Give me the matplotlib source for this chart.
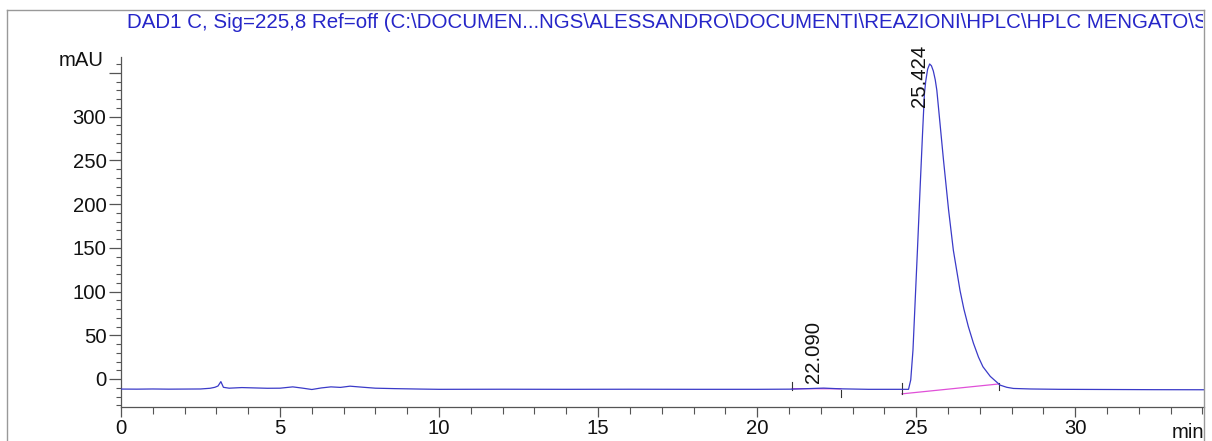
import matplotlib.pyplot as plt
from matplotlib.ticker import MultipleLocator
from matplotlib.transforms import Bbox, TransformedBbox, blended_transform_factory

plt.rcParams['font.family'] = ['Liberation Sans', 'DejaVu Sans']

# chromatogram trace (time in min, signal in mAU)
time = [0.0, 0.5, 1.0, 1.5, 2.0, 2.5, 2.8, 2.95, 3.05, 3.14, 3.22, 3.4, 3.8, 4.2,
        4.6, 5.0, 5.4, 5.7, 6.0, 6.3, 6.6, 6.9, 7.2, 7.6, 8.0, 8.6, 9.4, 10.0,
        12.0, 14.0, 16.0, 18.0, 20.0, 21.1, 21.6, 22.09, 22.6, 23.5, 24.5,
        24.76, 24.83, 24.90, 24.97, 25.04, 25.13, 25.20, 25.26, 25.30, 25.36,
        25.424, 25.48, 25.54, 25.60, 25.65, 25.75, 25.86, 26.02, 26.17, 26.38,
        26.5, 26.64, 26.8, 26.96, 27.1, 27.33, 27.5, 27.64, 27.85, 28.06, 28.6,
        29.5, 31.0, 32.5, 34.12]
signal = [-11.5, -11.6, -11.4, -11.6, -11.5, -11.4, -10.6, -9.5, -8.0, -3.0, -9.5,
          -10.5, -9.8, -10.2, -10.6, -10.5, -9.0, -10.4, -12.0, -10.2, -9.0, -9.6,
          -8.2, -9.4, -10.5, -11.0, -11.5, -11.8, -11.7, -11.8, -11.7, -11.8,
          -11.8, -11.6, -11.0, -10.4, -11.2, -11.8, -11.8, -11.8, -1.0, 33.0,
          90.0, 147.0, 223.0, 280.0, 326.0, 340.0, 354.0, 360.0, 358.0, 352.0,
          342.0, 330.0, 292.0, 250.0, 193.0, 147.0, 101.0, 80.0, 60.0, 41.0,
          25.0, 14.0, 3.0, -2.5, -7.0, -9.5, -10.8, -11.4, -11.8, -12.0, -12.2,
          -12.3]

# integration baselines and peak labels
baselines = [((21.1, 22.63), (-11.0, -11.2)), ((24.55, 27.59), (-17.0, -5.7))]
event_marks = [(21.1, -3.0, -12.6), (22.63, -12.6, -20.0),
               (24.55, -4.2, -17.5), (27.59, -4.0, -12.0)]
peak_rt = ['22.090', '25.424']
label_pos = [(21.76, -4.6), (25.11, 311.0)]

y_ticks = [0, 50, 100, 150, 200, 250, 300, 350]
y_labels = ['0', '50', '100', '150', '200', '250', '300', '']

title = ('DAD1 C, Sig=225,8 Ref=off (C:\\DOCUMEN...NGS\\ALESSANDRO\\DOCUMENTI'
         '\\REAZIONI\\HPLC\\HPLC MENGATO\\SAMPLE')

fs = 14.6

fig = plt.figure(figsize=(12.12, 4.41), dpi=100)
ax = fig.add_axes([121 / 1212, 34 / 441, 1083 / 1212, 350 / 441])

ax.plot(time, signal, color='#3a3ac8', lw=0.9, zorder=3)
for (xs, ys) in baselines:
    ax.plot(xs, ys, color='#e050d8', lw=0.9, zorder=2)
for x, y0, y1 in event_marks:
    ax.plot([x, x], [y0, y1], color='#333333', lw=0.8, zorder=2)
for txt, (x, y) in zip(peak_rt, label_pos):
    ax.text(x, y, txt, rotation=90, ha='center', va='bottom', fontsize=fs,
            color='#111111')

ax.set_xlim(0, 34.05)
ax.set_ylim(-32, 368)
for side in ['top', 'right']:
    ax.spines[side].set_visible(False)
for side in ['left', 'bottom']:
    ax.spines[side].set_color('#555555')
    ax.spines[side].set_linewidth(0.9)

ax.xaxis.set_major_locator(MultipleLocator(5))
ax.xaxis.set_minor_locator(MultipleLocator(1))
ax.set_yticks(y_ticks)
ax.set_yticklabels(y_labels)
ax.yaxis.set_minor_locator(MultipleLocator(10))
ax.tick_params(axis='both', which='major', labelsize=fs, color='#555555',
               width=0.9, labelcolor='#111111')
ax.tick_params(axis='both', which='minor', color='#555555', width=0.8)
ax.tick_params(axis='y', which='major', length=8.5, pad=2)
ax.tick_params(axis='y', which='minor', length=3.5)
ax.tick_params(axis='x', which='major', length=7, pad=2)
ax.tick_params(axis='x', which='minor', length=5)

# unit labels
trans = blended_transform_factory(ax.transAxes, ax.transData)
ax.text(-0.016, 364, 'mAU', transform=trans, ha='right', va='center',
        fontsize=fs, color='#111111')
ax.text(1.0, -0.073, 'min', transform=ax.transAxes, ha='right', va='center',
        fontsize=fs, color='#111111')

# outer frame
for xs, ys in [((7, 7), (0, 431)), ((7, 1204), (431, 431)), ((1204, 1204), (0, 431))]:
    fig.add_artist(plt.Line2D([x / 1212 for x in xs], [y / 441 for y in ys],
                              color='#999999', lw=1.0, transform=fig.transFigure))

t = fig.text(127 / 1212, 418 / 441, title, ha='left', va='center',
             fontsize=14.75, color='#2626c8')
t.set_clip_box(TransformedBbox(Bbox([[0, 0], [1203 / 1212, 1]]), fig.transFigure))
t.set_clip_on(True)

fig.savefig('out.png', dpi=100)
